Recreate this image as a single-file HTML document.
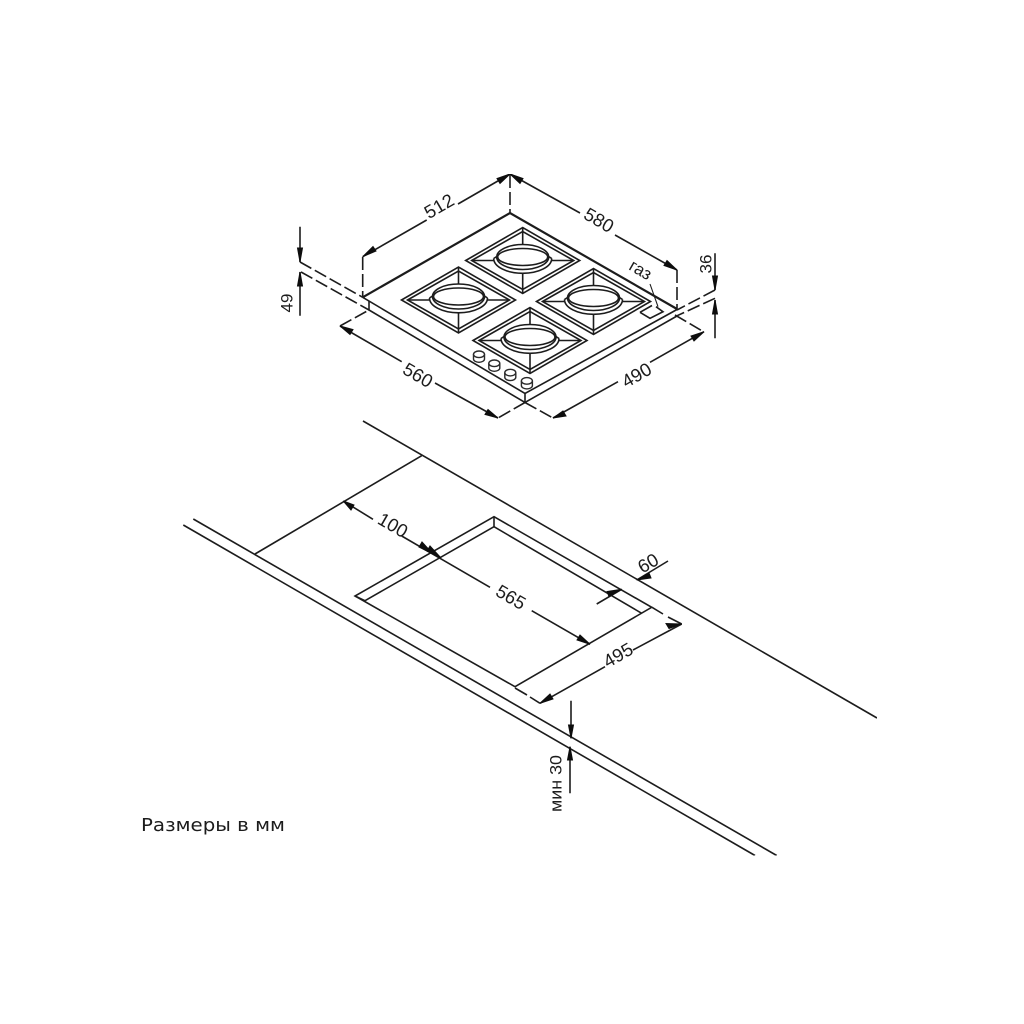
<!DOCTYPE html>
<html><head><meta charset="utf-8"><style>
html,body{margin:0;padding:0;background:#fff}
svg{display:block}
text{font-family:"Liberation Sans","DejaVu Sans",sans-serif;font-size:18.5px;fill:#1c1c1c;text-anchor:middle;dominant-baseline:central}
</style></head><body>
<svg xmlns="http://www.w3.org/2000/svg" width="1024" height="1024" viewBox="0 0 1024 1024">
<defs>
<filter id="s" x="0" y="0" width="100%" height="100%"><feGaussianBlur stdDeviation="0.35"/></filter>
<g id="b" fill="none" stroke="#1c1c1c" stroke-width="1.6">
<path d="M-57 0L0-33L57 0L0 33Z"/>
<path d="M-51 0L0-29L51 0L0 29Z"/>
<path d="M-51 0H-28.5M28.5 0H51M0-33V-16.5M0 13V33"/>
<ellipse cx="0" cy="-3.5" rx="25" ry="8.5"/>
<ellipse cx="0" cy="-3.5" rx="26" ry="12.5"/>
<path d="M-29-2A29 14.8 0 0 0 29-2"/>
<path d="M-29-2L-26-4M29-2L26-4"/>
</g>
<g id="k" fill="#fff" stroke="#2a2a2a" stroke-width="1.4">
<path d="M-5.5-2.4V2.3A5.5 3.3 0 0 0 5.5 2.3V-2.4"/>
<ellipse cx="0" cy="-2.4" rx="5.5" ry="3.3"/>
</g>
</defs>

<g filter="url(#s)">
<g fill="none" stroke="#1c1c1c" stroke-width="1.6">
<!-- hob -->
<path d="M362.7 297.3L510 213L677 309" stroke-width="2.2"/>
<path d="M362.7 297.3L525 393.5L677 309.5"/>
<path d="M369 301V310L525 402.5L677 316"/>
<path d="M525 393.5V402.5"/>
<path d="M640 312.3L650 318.3L663 311.7L656 306.7"/>
<path d="M640 312.3L652 305.5"/>
<path d="M650 284L658 306.7" stroke-width="1.1"/>

<!-- dashed extensions -->
<g stroke-dasharray="13 4">
<path d="M362.7 257V297"/>
<path d="M510 175V213"/>
<path d="M677 270V310"/>
<path d="M300 262L362.7 297.3"/>
<path d="M301 272L369 310"/>
<path d="M715 290L677 310"/>
<path d="M715 298.3L675 316.7"/>
<path d="M340 326L369 310"/>
<path d="M525 402.5L498 418"/>
<path d="M525 402.5L553 418"/>
<path d="M675 315L704 332"/>
</g>

<!-- dimension lines top -->
<path d="M362.7 256.7L426.7 220M458 204L510 174"/>
<path d="M510 174L580 213M615 235L677 270"/>
<path d="M340 326L401.7 361.7M435 383L498 418"/>
<path d="M553 418L618 381.7M650 362.3L704 331.7"/>
<path d="M300 226.7V262M300 272V315.7"/>
<path d="M715 253.3V290M715 300V338.3"/>

<!-- countertop -->
<path d="M363 421L877 718"/>
<path d="M193.3 519L776.7 855.5"/>
<path d="M183.3 525L755 855.5"/>
<path d="M421.7 455.7L255 554"/>

<!-- cutout -->
<path d="M494 516.7L355 596L515 686.7L651.7 607.3Z"/>
<path d="M494 526.7L365 600.7M494 526.7L641.7 613.3"/>
<path d="M494 516.7V526.7M355 596L365 600.7"/>
<path d="M515 688L527 695M530 697L540 703.3"/>
<path d="M652 607.3L663 614M668 617L681.7 624"/>

<path d="M540 703.3L605 666.7M633 650L681.7 624"/>
<path d="M343.3 501L373 519.3M401.7 536L440 558.3"/>
<path d="M440 558.3L490 587.3M531.7 610.7L590 644.3"/>
<path d="M668 561L636.7 580M621.7 589.3L596.7 604"/>
<path d="M571 700.7V738.3M570 746.7V793.3"/>
</g>

<use href="#b" x="522.7" y="260.5"/>
<use href="#b" x="458.5" y="300"/>
<use href="#b" x="593.5" y="301.5"/>
<use href="#b" x="530" y="340.5"/>

<use href="#k" x="479" y="356.7"/>
<use href="#k" x="494.3" y="365.7"/>
<use href="#k" x="510.3" y="375"/>
<use href="#k" x="526.9" y="383.3"/>

<!-- arrowheads -->
<g fill="#111" stroke="#111" stroke-width="1">
<path d="M362.7 256.7L373 246.5L376 251Z"/>
<path d="M510 174L497 178.5L500 183.5Z"/>
<path d="M510 174L523 178.5L520 183.5Z"/>
<path d="M677 270L664 265.5L667 260.5Z"/>
<path d="M340 326L353 329.5L350 334.5Z"/>
<path d="M498 418L485 414.5L488 409.5Z"/>
<path d="M553 418L563 411L566 416Z"/>
<path d="M704 331.7L691 336L694 341Z"/>
<path d="M300 262L297.5 248H302.5Z"/>
<path d="M300 272L297.5 286H302.5Z"/>
<path d="M715 290L712.5 276H717.5Z"/>
<path d="M715 300L712.5 314H717.5Z"/>
<path d="M343.3 501L354 505L351 510Z"/>
<path d="M433 554L419 547L422 542Z"/>
<path d="M441 558L427 551L430 546Z"/>
<path d="M590 644.3L577 640L580 635Z"/>
<path d="M540 703.3L553 699L550 694Z"/>
<path d="M681.7 624L669 628.5L666 623.5Z"/>
<path d="M636.7 580L649 573L651 578Z"/>
<path d="M621.7 589.3L609 596.5L607 591.5Z"/>
<path d="M571 738.3L568.5 725H573.5Z"/>
<path d="M570 746.7L567.5 760H572.5Z"/>
</g>

<!-- labels -->
<text x="439" y="206" transform="rotate(-30 439 206)">512</text>
<text x="599" y="220" transform="rotate(30 599 220)">580</text>
<text x="418" y="375" transform="rotate(30 418 375)">560</text>
<text x="636.5" y="375" transform="rotate(-30 636.5 375)">490</text>
<text x="287" y="303" transform="rotate(-90 287 303)" style="font-size:17px">49</text>
<text x="706" y="264" transform="rotate(-90 706 264)" style="font-size:17px">36</text>
<text x="640.5" y="270" transform="rotate(30 640.5 270)" style="font-size:17px">газ</text>
<text x="393" y="525" transform="rotate(30 393 525)">100</text>
<text x="511" y="597" transform="rotate(30 511 597)">565</text>
<text x="618" y="655" transform="rotate(-30 618 655)">495</text>
<text x="648" y="563" transform="rotate(-30 648 563)">60</text>
<text x="556" y="783.5" transform="rotate(-90 556 783.5)" textLength="57" lengthAdjust="spacingAndGlyphs" style="font-size:17px">мин 30</text>
<text x="213" y="826" textLength="144" lengthAdjust="spacingAndGlyphs" style="font-family:'DejaVu Sans',sans-serif;font-size:17.5px">Размеры в мм</text>
</g>
</svg>
</body></html>
